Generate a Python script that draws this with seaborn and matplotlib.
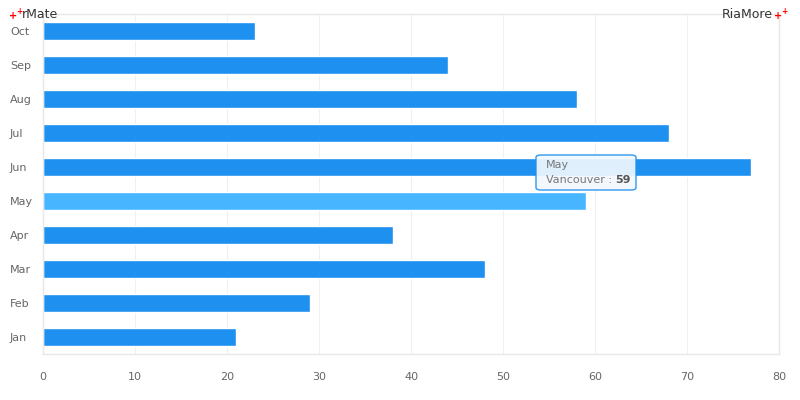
import matplotlib
matplotlib.use("Agg")
import matplotlib.pyplot as plt
import seaborn as sns
import pandas as pd
from matplotlib.patches import FancyBboxPatch

months = ["Oct", "Sep", "Aug", "Jul", "Jun", "May", "Apr", "Mar", "Feb", "Jan"]
values = [23, 44, 58, 68, 77, 59, 38, 48, 29, 21]
x_ticks = [0, 10, 20, 30, 40, 50, 60, 70, 80]
highlight = "May"
series_name = "Vancouver"

sns.set_theme(style="white")
plt.rcParams['font.family'] = ['DejaVu Sans']

df = pd.DataFrame({"month": months, "value": values})
palette = {m: ("#47B5FF" if m == highlight else "#1E90EF") for m in months}

fig = plt.figure(figsize=(8, 4), dpi=100)
ax = fig.add_axes([43/800, 1-354/400, (779-43)/800, (354-14)/400])
sns.barplot(data=df, y="month", x="value", hue="month", palette=palette,
            order=months, width=0.55, ax=ax, legend=False, saturation=1)

ax.set_xlim(0, 80)
ax.set_xticks(x_ticks)
ax.set_xlabel("")
ax.set_ylabel("")
ax.grid(axis="x", color="#F0F0F0", linewidth=0.8)
ax.set_axisbelow(True)
for s in ax.spines.values():
    s.set_color("#E8E8E8")
    s.set_linewidth(1)
ax.tick_params(axis="both", length=0, labelsize=8, labelcolor="#666666")
ax.tick_params(axis="x", pad=13)
ax.tick_params(axis="y", pad=33 * 72 / 100)
for lbl in ax.get_yticklabels():
    lbl.set_horizontalalignment("left")

# header texts
fig.text(22/800, 1-14/400, "rMate", fontsize=9, color="#333333", va="center", ha="left")
fig.text(9/800, 1-16/400, "+", fontsize=7, color="red", va="center", ha="left", fontweight="bold")
fig.text(16/800, 1-11/400, "+", fontsize=5.5, color="red", va="center", ha="left", fontweight="bold")
fig.text(773/800, 1-14/400, "RiaMore", fontsize=9, color="#333333", va="center", ha="right")
fig.text(774/800, 1-16/400, "+", fontsize=7, color="red", va="center", ha="left", fontweight="bold")
fig.text(781/800, 1-11/400, "+", fontsize=5.5, color="red", va="center", ha="left", fontweight="bold")

# tooltip
bx0, by0, bw, bh = 536, 155, 100, 35
box = FancyBboxPatch((bx0/800, 1-(by0+bh)/400), bw/800, bh/400,
                     boxstyle="round,pad=0,rounding_size=0.006",
                     transform=fig.transFigure, facecolor="#F2F8FE", alpha=0.92,
                     edgecolor="#1E90EF", linewidth=1, zorder=10)
fig.patches.append(box)
fig.text(546/800, 1-165/400, highlight, fontsize=8, color="#777777", va="center", ha="left", zorder=11)
t = fig.text(546/800, 1-180/400, f"{series_name} : ", fontsize=8, color="#777777", va="center", ha="left", zorder=11)
fig.canvas.draw()
bb = t.get_window_extent()
fig.text(bb.x1/800, 1-180/400, str(values[months.index(highlight)]), fontsize=8, color="#555555",
         fontweight="bold", va="center", ha="left", zorder=11)

fig.savefig("out.png", dpi=100)
